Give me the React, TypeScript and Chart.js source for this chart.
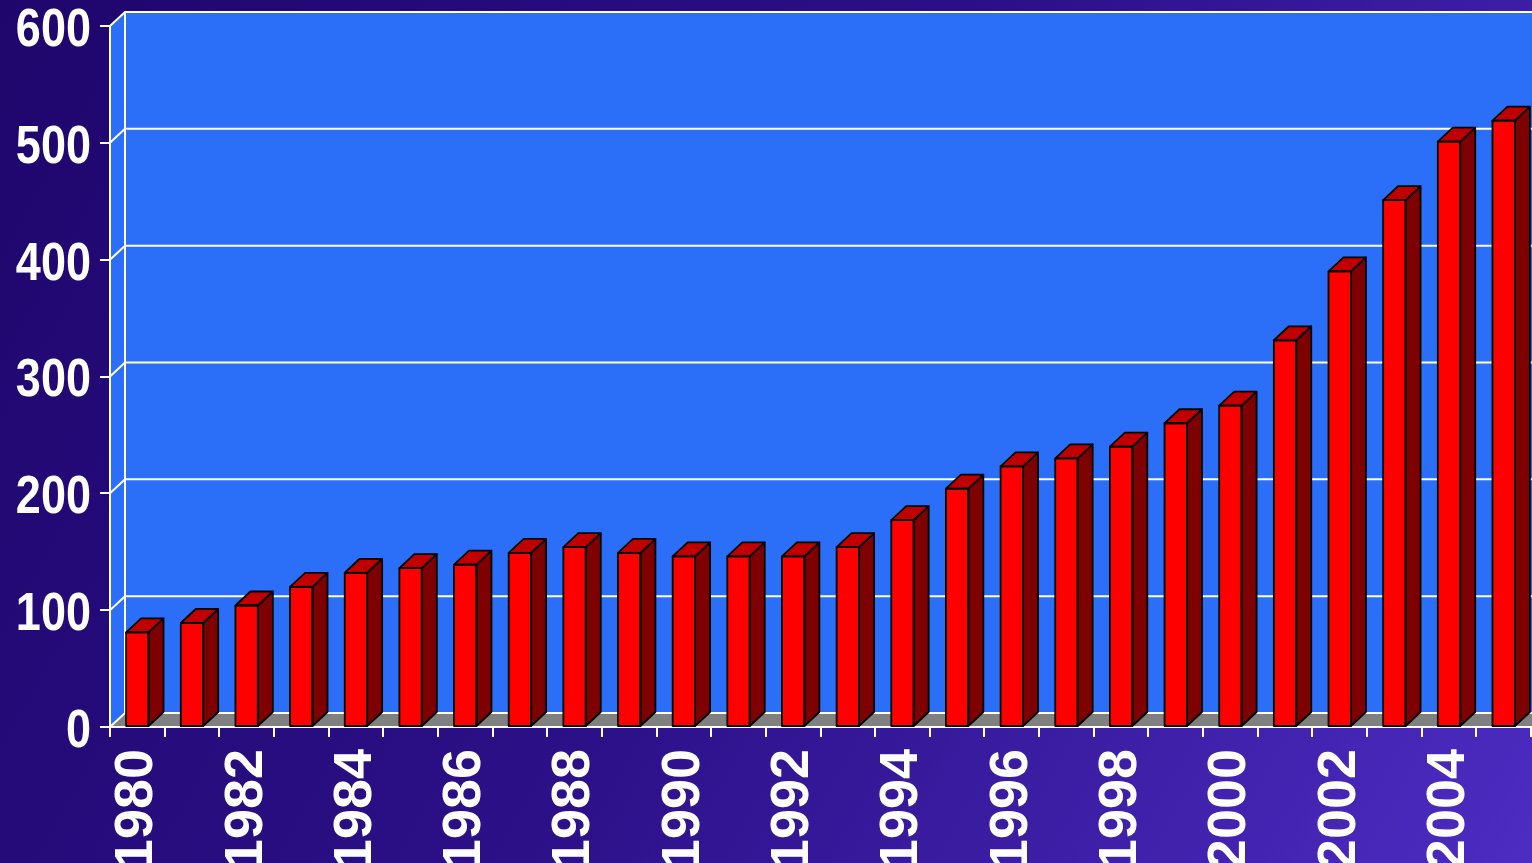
import React, { useEffect, useRef } from "react";
import { Chart, registerables } from "chart.js";
Chart.register(...registerables);

const years = [
  "1980", "1981", "1982", "1983", "1984", "1985", "1986", "1987", "1988", "1989",
  "1990", "1991", "1992", "1993", "1994", "1995", "1996", "1997", "1998", "1999",
  "2000", "2001", "2002", "2003", "2004", "2005",
];
const values = [
  81, 89, 104, 120, 132, 136, 139, 149, 154, 149,
  146, 146, 146, 154, 177, 204, 223, 230, 240, 260,
  275, 331, 390, 451, 501, 519,
];
const yTickValues = [0, 100, 200, 300, 400, 500, 600];

const DX = 15;
const DY = 14;
const WALL = "#2b6ff9";
const FLOOR = "#808080";
const FRONT = "#ff0000";
const SIDE = "#7f0000";
const TOP = "#c00000";
const Y_FONT_SIZE = 53;

const threeD = {
  id: "threeD",
  beforeDraw(chart: any) {
    const { ctx, width, height, chartArea } = chart;
    const g = ctx.createLinearGradient(0, 0, width, height);
    g.addColorStop(0, "#1e066c");
    g.addColorStop(0.5, "#2c1088");
    g.addColorStop(1, "#4c2cc2");
    ctx.save();
    ctx.fillStyle = g;
    ctx.fillRect(0, 0, width, height);
    const { left, right, top, bottom } = chartArea;
    ctx.fillStyle = WALL;
    ctx.beginPath();
    ctx.moveTo(left, top);
    ctx.lineTo(left + DX, top - DY);
    ctx.lineTo(right + DX, top - DY);
    ctx.lineTo(right + DX, bottom - DY);
    ctx.lineTo(left, bottom);
    ctx.closePath();
    ctx.fill();
    ctx.fillStyle = FLOOR;
    ctx.beginPath();
    ctx.moveTo(left, bottom);
    ctx.lineTo(left + DX, bottom - DY);
    ctx.lineTo(right + DX, bottom - DY);
    ctx.lineTo(right, bottom);
    ctx.closePath();
    ctx.fill();
    const ys = chart.scales.y;
    ctx.strokeStyle = "#ffffff";
    ctx.lineWidth = 2;
    yTickValues.forEach((v) => {
      const y = ys.getPixelForValue(v);
      ctx.beginPath();
      ctx.moveTo(left, y);
      ctx.lineTo(left + DX, y - DY);
      ctx.lineTo(right + DX, y - DY);
      ctx.stroke();
    });
    ctx.beginPath();
    ctx.moveTo(left + DX, top - DY);
    ctx.lineTo(left + DX, bottom - DY);
    ctx.stroke();
    ctx.restore();
  },
  afterDatasetsDraw(chart: any) {
    const { ctx } = chart;
    const meta = chart.getDatasetMeta(0);
    ctx.save();
    ctx.strokeStyle = "#000000";
    ctx.lineWidth = 1.8;
    ctx.lineJoin = "round";
    meta.data.forEach((bar: any) => {
      const { x, y, base, width } = bar.getProps(["x", "y", "base", "width"], true);
      const l = x - width / 2;
      const r = x + width / 2;
      ctx.fillStyle = SIDE;
      ctx.beginPath();
      ctx.moveTo(r, y);
      ctx.lineTo(r + DX, y - DY);
      ctx.lineTo(r + DX, base - DY);
      ctx.lineTo(r, base);
      ctx.closePath();
      ctx.fill();
      ctx.stroke();
      ctx.fillStyle = TOP;
      ctx.beginPath();
      ctx.moveTo(l, y);
      ctx.lineTo(l + DX, y - DY);
      ctx.lineTo(r + DX, y - DY);
      ctx.lineTo(r, y);
      ctx.closePath();
      ctx.fill();
      ctx.stroke();
      ctx.strokeRect(l, y, width, base - y);
    });
    ctx.restore();
  },
  afterDraw(chart: any) {
    const { ctx } = chart;
    const ys = chart.scales.y;
    ctx.save();
    ctx.fillStyle = "#ffffff";
    ctx.font = `bold ${Y_FONT_SIZE}px 'Liberation Sans', Arial, sans-serif`;
    ctx.textAlign = "right";
    ctx.textBaseline = "alphabetic";
    ys.ticks.forEach((t: any) => {
      const y = ys.getPixelForValue(t.value);
      ctx.save();
      ctx.translate(ys.right - 19, y + Y_FONT_SIZE * 0.716 / 2 + 1);
      ctx.scale(0.85, 1);
      ctx.fillText(String(t.value), 0, 0);
      ctx.restore();
    });
    ctx.restore();
  },
};

export default function App() {
  const ref = useRef<HTMLCanvasElement | null>(null);
  useEffect(() => {
    document.body.style.margin = "0";
    const canvas = ref.current;
    if (!canvas) return;
    const chart = new Chart(canvas, {
      type: "bar",
      data: {
        labels: years,
        datasets: [
          {
            data: values,
            backgroundColor: FRONT,
            borderWidth: 0,
            categoryPercentage: 1,
            barPercentage: 0.41,
          },
        ],
      },
      options: {
        animation: false,
        responsive: false,
        maintainAspectRatio: false,
        layout: { padding: { top: 26, right: 1, left: 0, bottom: 0 } },
        plugins: { legend: { display: false }, tooltip: { enabled: false } },
        scales: {
          x: {
            type: "category",
            offset: true,
            grid: {
              offset: true,
              drawOnChartArea: false,
              drawTicks: true,
              tickLength: 10,
              color: "#ffffff",
              lineWidth: 2,
            },
            border: { display: true, color: "#ffffff", width: 2 },
            ticks: {
              autoSkip: false,
              maxRotation: 90,
              minRotation: 90,
              padding: 12,
              color: "#ffffff",
              font: { family: "'Liberation Sans', Arial, sans-serif", size: 54, weight: "bold" },
              callback: (_v: any, i: number) => (i % 2 === 0 ? years[i] : ""),
            },
            afterFit: (s: any) => {
              s.height = 136;
              s.paddingLeft = 0;
              s.paddingRight = 0;
            },
          },
          y: {
            min: 0,
            max: 600,
            grid: {
              drawOnChartArea: false,
              drawTicks: true,
              tickLength: 10,
              color: "#ffffff",
              lineWidth: 2,
            },
            border: { display: true, color: "#ffffff", width: 2 },
            ticks: {
              stepSize: 100,
              display: false,
            },
            afterFit: (s: any) => {
              s.width = 110;
              s.paddingTop = 0;
              s.paddingBottom = 0;
            },
          },
        },
      },
      plugins: [threeD],
    } as any);
    return () => chart.destroy();
  }, []);
  return (
    <div style={{ position: "fixed", left: 0, top: 0, width: 1532, height: 863 }}>
      <canvas ref={ref} width={1532} height={863} style={{ display: "block" }} />
    </div>
  );
}
